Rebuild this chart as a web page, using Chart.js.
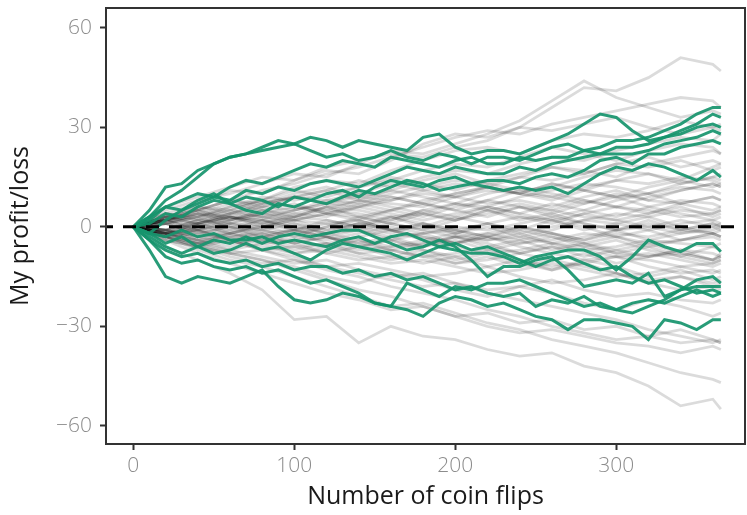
<!DOCTYPE html>
<html>
<head>
<meta charset="utf-8">
<script src="https://cdn.jsdelivr.net/npm/chart.js@4.4.1/dist/chart.umd.min.js"></script>
<style>
  body { margin: 0; background: #fff; }
  #wrap { width: 747px; height: 515px; }
</style>
</head>
<body>
<div id="wrap"><canvas id="chart" width="747" height="515"></canvas></div>
<script>
const flipsGreen = [0,10,20,30,40,50,60,70,80,90,100,110,120,130,140,150,160,170,180,190,200,210,220,230,240,250,260,270,280,290,300,310,320,330,340,350,360,365];
const flipsGrey = [0,20,40,60,80,100,120,140,160,180,200,220,240,260,280,300,320,340,360,365];

// Highlighted walks, ending above zero
const greenUp = [
  [0,5,12,13,17,19,21,22,24,26,25,27,26,24,26,25,24,23,27,28,24,22,23,23,22,24,26,28,31,34,33,29,26,27,29,31,34,33],
  [0,3,8,11,15,19,21,22,23,24,25,23,21,22,20,21,23,21,20,22,21,19,21,21,20,22,24,25,23,24,26,26,27,29,31,34,36,36],
  [0,2,6,8,10,9,12,14,13,15,17,19,18,20,19,18,21,20,19,18,20,21,19,19,21,20,21,21,23,22,24,24,25,27,28,30,31,30],
  [0,-2,2,5,7,9,8,11,10,12,11,13,14,13,12,14,16,18,17,16,18,17,16,16,18,17,19,20,21,22,22,22,23,25,26,27,29,28],
  [0,3,6,5,8,10,7,9,8,6,9,8,10,11,9,12,14,13,12,14,15,13,14,14,13,15,16,15,17,20,21,19,22,22,24,25,26,25],
  [0,1,4,3,6,8,7,5,4,7,6,8,7,9,11,10,12,14,13,11,12,13,12,11,12,11,12,10,13,16,18,17,19,18,16,14,17,15]
];

// Highlighted walks, ending below zero
const greenDown = [
  [0,-3,-6,-8,-6,-8,-7,-5,-7,-6,-8,-10,-7,-5,-6,-7,-8,-10,-8,-6,-7,-8,-8,-9,-11,-9,-8,-7,-7,-9,-13,-9,-4,-6,-7.5,-5,-5,-7.5],
  [0,-7,-15,-17,-15,-16,-17,-15,-13,-18,-22,-23,-22,-20,-21,-23,-24,-25,-27,-23,-21,-22,-24,-23,-25,-27,-28,-31,-28,-28,-29,-30,-34,-28,-29,-31,-28,-28],
  [0,-4,-9,-11,-10,-12,-13,-12,-14,-13,-15,-17,-16,-18,-20,-23,-24,-17,-19,-21,-18,-19,-17,-17,-16,-18,-20,-22,-24,-23,-25,-26,-24,-22,-19,-16,-15,-17],
  [0,-2,-5,-3,-6,-4,-5,-3,-5,-3,-2,-3,-2,-1,-1,-3,-5,-7,-6,-4,-6,-10,-15,-12,-12,-10,-9,-13,-18,-17,-16,-17,-14,-21,-19,-18,-18,-18],
  [0,-4,-7,-9,-8,-10,-11,-10,-12,-11,-13,-12,-12,-14,-13,-15,-14,-16,-15,-17,-19,-18,-20,-21,-20,-24,-22,-23,-21,-24,-25,-23,-22,-23,-21,-19,-21,-20],
  [0,-2,-3,-1,-3,-2,-4,-4,-3,-5,-4,-5,-6,-4,-3,-5,-3,-2,-4,-6,-5,-7,-6,-8,-10,-12,-10,-9,-11,-13,-12,-15,-17,-16,-18,-20,-19,-20]
];

// Background walks
const greyWalks = [
  [0,6,9,12,15,14,18,20,22,21,24,26,30,36,42,41,45,51,49,47],
  [0,5,8,10,13,16,15,19,23,22,25,28,32,38,44,39,36,33,35,34],
  [0,4,7,11,10,14,17,16,20,25,28,27,30,29,31,33,30,28,30,31],
  [0,3,6,5,8,12,14,13,17,20,23,24,22,26,28,27,29,32,30,29],
  [0,2,5,8,7,9,11,14,12,15,17,16,19,21,20,23,25,27,26,28],
  [0,4,3,6,9,8,10,12,15,13,11,14,16,18,17,15,19,21,23,22],
  [0,2,4,3,6,9,8,7,10,12,14,13,11,12,15,17,16,14,18,19],
  [0,-2,1,4,3,5,7,9,8,11,13,12,10,9,12,14,13,15,14,13],
  [0,3,5,2,4,6,5,8,7,6,9,11,10,13,11,9,10,12,11,10],
  [0,1,-1,2,5,4,3,6,8,10,9,7,8,6,9,11,8,7,9,8],
  [0,-1,2,1,0,3,5,4,2,5,7,6,4,7,5,3,6,8,7,6],
  [0,2,0,-2,1,3,2,0,3,4,2,5,3,1,4,6,5,3,4,5],
  [0,-2,-1,1,3,2,4,3,1,-1,2,4,6,5,3,2,4,6,3,4],
  [0,1,3,0,-2,-1,1,2,-1,0,3,1,-2,0,2,1,-1,1,2,1],
  [0,-1,-3,-2,0,2,1,-1,-3,-2,0,-1,1,3,1,-1,0,2,0,-1],
  [0,2,1,3,2,0,-2,-1,1,-1,-3,-2,0,-2,-4,-2,-3,-1,-2,-3],
  [0,-3,-2,0,-1,-3,-4,-2,0,-2,-1,-3,-5,-4,-2,-3,-5,-4,-3,-4],
  [0,-2,-4,-3,-5,-4,-2,-4,-6,-5,-3,-4,-2,-5,-7,-6,-4,-5,-6,-5],
  [0,-1,-3,-5,-4,-6,-5,-7,-6,-4,-6,-8,-7,-5,-6,-8,-9,-7,-8,-9],
  [0,-3,-5,-4,-7,-6,-8,-10,-9,-11,-9,-7,-10,-12,-11,-9,-10,-12,-11,-10],
  [0,-2,-1,-4,-6,-8,-7,-9,-11,-10,-12,-14,-13,-11,-13,-15,-14,-12,-14,-13],
  [0,-4,-6,-8,-7,-10,-12,-11,-13,-15,-14,-12,-15,-17,-16,-14,-17,-19,-18,-17],
  [0,-3,-5,-7,-9,-11,-10,-13,-15,-14,-17,-19,-18,-16,-19,-21,-20,-22,-23,-22],
  [0,-4,-8,-11,-14,-17,-20,-22,-25,-24,-27,-26,-29,-28,-31,-30,-33,-35,-34,-35],
  [0,-6,-10,-14,-19,-28,-27,-35,-30,-33,-34,-37,-39,-38,-42,-44,-48,-54,-52,-55],
  [0,-3,-7,-10,-12,-15,-18,-21,-24,-23,-26,-29,-31,-34,-36,-38,-41,-44,-46,-47],
  [0,-2,-5,-8,-10,-13,-16,-19,-21,-24,-27,-30,-32,-31,-33,-35,-36,-38,-36,-37],
  [0,-4,-6,-9,-11,-10,-13,-15,-18,-20,-22,-25,-27,-30,-32,-34,-33,-31,-34,-35],
  [0,1,3,6,8,11,9,12,14,17,19,18,21,24,22,20,23,25,24,22],
  [0,-1,2,4,6,5,8,10,9,7,10,12,15,14,16,19,18,20,17,18],
  [0,2,-1,-3,-2,-4,-6,-8,-7,-9,-11,-10,-8,-6,-7,-9,-8,-10,-12,-11],
  [0,-2,0,2,4,3,6,5,3,1,-1,1,3,2,4,2,0,-2,-1,0],
  [0,3,1,-1,-3,-5,-3,-5,-7,-9,-8,-6,-8,-10,-12,-14,-16,-15,-17,-16],
  [0,1,-2,-4,-3,-1,-3,-6,-4,-2,-5,-3,-6,-8,-10,-9,-12,-14,-13,-14],
  [0,-1,1,3,2,5,7,6,4,2,4,6,9,11,13,12,10,13,15,14],
  [0,2,4,7,5,3,6,8,11,9,7,10,12,10,8,6,9,11,13,12],
  [0,-2,-4,-2,0,-2,-5,-3,-1,1,-2,-4,-3,-1,2,4,3,5,4,5],
  [0,3,2,5,3,1,-1,1,-1,-3,-5,-3,-1,-3,-5,-7,-9,-8,-10,-9],
  [0,-3,-6,-4,-7,-9,-12,-14,-16,-18,-17,-20,-22,-24,-26,-28,-31,-33,-35,-34],
  [0,2,5,8,11,13,16,18,21,24,27,29,28,31,33,35,37,39,38,36],
  [0,3,6,4,7,10,12,9,11,14,16,13,15,18,16,19,21,18,20,19],
  [0,-3,-1,-4,-2,-5,-3,-1,-4,-6,-3,-5,-8,-6,-9,-7,-5,-8,-10,-9],
  [0,2,-1,1,4,2,-1,1,3,0,-2,1,-1,2,0,-3,-1,-4,-2,-3],
  [0,-2,1,3,1,4,6,3,5,7,5,8,6,3,5,8,10,7,9,8],
  [0,4,2,0,2,-1,-3,-5,-3,-6,-4,-7,-5,-3,-6,-4,-7,-9,-6,-7],
  [0,-1,-4,-6,-3,-5,-8,-6,-9,-7,-10,-8,-11,-13,-10,-12,-15,-13,-16,-15],
  [0,1,4,2,5,7,4,6,9,7,5,3,6,4,7,9,6,4,2,3],
  [0,-2,-5,-3,-1,1,-2,0,2,5,3,6,4,2,-1,1,3,0,-2,-1],
  [0,3,5,8,6,9,11,8,6,4,7,5,2,4,1,-1,2,-1,1,0],
  [0,-3,-5,-2,-4,-7,-5,-8,-10,-8,-11,-9,-12,-10,-8,-11,-9,-7,-10,-8],
  [0,2,4,1,-1,-3,0,2,-1,-3,-5,-2,-4,-7,-5,-8,-6,-9,-11,-10],
  [0,-1,1,-2,-4,-2,0,3,1,4,2,5,7,5,8,6,4,7,5,6],
  [0,2,3,5,8,6,4,7,5,8,10,12,10,13,11,14,16,13,15,16],
  [0,-2,-4,-7,-5,-8,-6,-4,-7,-5,-3,-6,-4,-2,-5,-3,-6,-4,-2,-3],
  [0,1,-2,0,-3,-1,2,0,-2,1,-1,-3,0,-2,-4,-1,1,-1,1,0],
  [0,-2,0,3,1,-1,-3,-6,-4,-7,-9,-12,-10,-13,-11,-14,-17,-15,-18,-19],
  [0,3,1,4,7,9,7,10,13,11,9,12,10,8,11,9,12,14,12,13],
  [0,-1,-3,-1,2,0,-2,1,-1,-4,-2,0,-3,-5,-3,-1,-4,-2,0,1],
  [0,2,5,3,0,2,4,2,5,3,6,8,11,9,7,10,8,11,13,12],
  [0,-3,-6,-8,-10,-12,-15,-17,-14,-16,-19,-21,-18,-20,-23,-25,-22,-24,-27,-26]
];

const yTicks = [-60, -30, 0, 30, 60];
const xTicks = [0, 100, 200, 300];

const green = 'rgba(22, 148, 108, 0.92)';
const grey = 'rgba(0, 0, 0, 0.14)';

function toPoints(xs, ys) {
  return ys.map((v, i) => ({ x: xs[i], y: v }));
}

const datasets = [];
greenUp.concat(greenDown).forEach(w => {
  datasets.push({
    data: toPoints(flipsGreen, w),
    borderColor: green,
    borderWidth: 3,
    pointRadius: 0,
    order: 0
  });
});
greyWalks.forEach(w => {
  datasets.push({
    data: toPoints(flipsGrey, w),
    borderColor: grey,
    borderWidth: 2.8,
    pointRadius: 0,
    order: 1
  });
});

// dashed zero line + panel border
const panel = {
  id: 'panel',
  afterDatasetsDraw(chart) {
    const { ctx, chartArea: a, scales } = chart;
    const y0 = scales.y.getPixelForValue(0);
    ctx.save();
    ctx.beginPath();
    ctx.rect(a.left, a.top, a.right - a.left, a.bottom - a.top);
    ctx.clip();
    ctx.beginPath();
    ctx.setLineDash([13, 10]);
    ctx.lineDashOffset = 6;
    ctx.strokeStyle = '#000';
    ctx.lineWidth = 3;
    ctx.moveTo(a.left, y0);
    ctx.lineTo(a.right, y0);
    ctx.stroke();
    ctx.restore();

    ctx.save();
    ctx.strokeStyle = '#333';
    ctx.lineWidth = 2;
    ctx.strokeRect(a.left, a.top, a.right - a.left, a.bottom - a.top);
    ctx.restore();
  }
};

const tickFont = { family: 'Open Sans', size: 21, weight: '300' };
const titleFont = { family: 'Open Sans', size: 25 };

new Chart(document.getElementById('chart'), {
  type: 'line',
  data: { datasets },
  options: {
    responsive: false,
    animation: false,
    layout: { padding: { top: 8, right: 2, left: 0, bottom: 0 } },
    plugins: { legend: { display: false }, tooltip: { enabled: false } },
    scales: {
      x: {
        type: 'linear',
        min: -17,
        max: 380,
        afterFit: s => { s.height = 71; s.paddingLeft = 0; s.paddingRight = 0; },
        afterBuildTicks: s => { s.ticks = xTicks.map(v => ({ value: v })); },
        ticks: { color: '#8c8c8c', font: tickFont, padding: 3, maxRotation: 0 },
        grid: { drawOnChartArea: false, tickLength: 6, tickWidth: 2, tickColor: '#333' },
        border: { display: false },
        title: { display: true, text: 'Number of coin flips', color: '#1a1a1a', font: titleFont, padding: 3 }
      },
      y: {
        min: -65.5,
        max: 66,
        afterFit: s => { s.width = 106; s.paddingTop = 0; s.paddingBottom = 0; },
        afterBuildTicks: s => { s.ticks = yTicks.map(v => ({ value: v })); },
        ticks: {
          color: '#8c8c8c', font: tickFont, padding: 8,
          callback: v => String(v).replace('-', '\u2212')
        },
        grid: { drawOnChartArea: false, tickLength: 6, tickWidth: 2, tickColor: '#333' },
        border: { display: false },
        title: { display: true, text: 'My profit/loss', color: '#1a1a1a', font: titleFont, padding: 6 }
      }
    }
  },
  plugins: [panel]
});
</script>
</body>
</html>
